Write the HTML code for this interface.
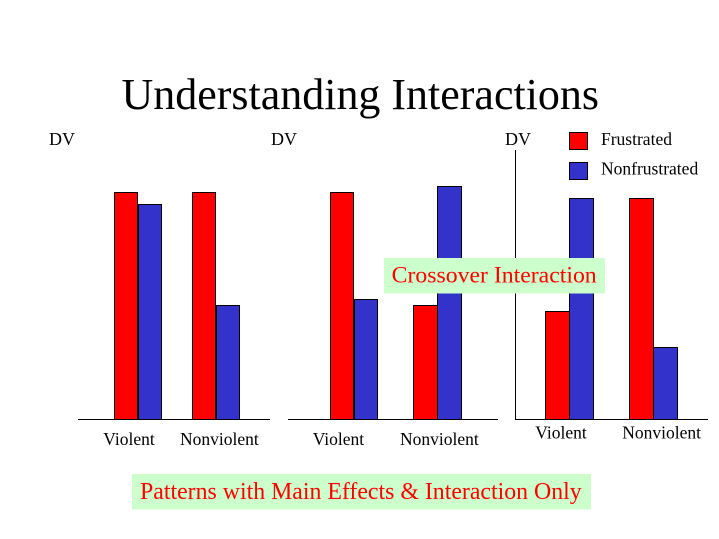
<!DOCTYPE html>
<html>
<head>
<meta charset="utf-8">
<style>
html,body{margin:0;padding:0;background:#fff;}
svg{display:block;}
text{font-family:"Liberation Serif","Times New Roman",serif;}
</style>
</head>
<body>
<svg width="719" height="539" viewBox="0 0 719 539" xmlns="http://www.w3.org/2000/svg">
<rect x="0" y="0" width="719" height="539" fill="#fff"/>
<text x="121.5" y="109" font-size="44" fill="#000" textLength="477.5" lengthAdjust="spacingAndGlyphs">Understanding Interactions</text>

<!-- Chart 1 -->
<text x="49" y="145" font-size="18" fill="#000">DV</text>
<g stroke="#000" stroke-width="1">
<rect x="114.5" y="192.5" width="23" height="227" fill="#FF0000"/>
<rect x="138.5" y="204.5" width="23" height="215" fill="#3333CC"/>
<rect x="192.5" y="192.5" width="23" height="227" fill="#FF0000"/>
<rect x="216.5" y="305.5" width="23" height="114" fill="#3333CC"/>
<line x1="78" y1="419.5" x2="270" y2="419.5"/>
</g>
<text x="103.3" y="445" font-size="17.5" fill="#000">Violent</text>
<text x="180" y="445" font-size="17.5" fill="#000">Nonviolent</text>

<!-- Chart 2 -->
<text x="271" y="145" font-size="18" fill="#000">DV</text>
<g stroke="#000" stroke-width="1">
<rect x="330.5" y="192.5" width="23" height="227" fill="#FF0000"/>
<rect x="354.5" y="299.5" width="23" height="120" fill="#3333CC"/>
<rect x="413.5" y="305.5" width="24" height="114" fill="#FF0000"/>
<rect x="437.5" y="186.5" width="24" height="233" fill="#3333CC"/>
<line x1="288" y1="419.5" x2="498" y2="419.5"/>
</g>
<text x="312.7" y="445" font-size="17.5" fill="#000">Violent</text>
<text x="400" y="445" font-size="17.5" fill="#000">Nonviolent</text>

<!-- Chart 3 -->
<text x="505" y="145" font-size="18" fill="#000">DV</text>
<g stroke="#000" stroke-width="1">
<line x1="515.5" y1="150" x2="515.5" y2="419.5"/>
<line x1="515" y1="419.5" x2="708" y2="419.5"/>
<rect x="545.5" y="311.5" width="24" height="108" fill="#FF0000"/>
<rect x="569.5" y="198.5" width="24" height="221" fill="#3333CC"/>
<rect x="629.5" y="198.5" width="24" height="221" fill="#FF0000"/>
<rect x="653.5" y="347.5" width="24" height="72" fill="#3333CC"/>
<rect x="569.5" y="132.5" width="18" height="17" fill="#FF0000"/>
<rect x="569.5" y="162.5" width="18" height="17" fill="#3333CC"/>
</g>
<text x="601" y="145" font-size="17.5" fill="#000">Frustrated</text>
<text x="601" y="174.3" font-size="17.5" fill="#000">Nonfrustrated</text>
<text x="535.3" y="438.5" font-size="17.5" fill="#000">Violent</text>
<text x="622.3" y="438.5" font-size="17.5" fill="#000">Nonviolent</text>

<!-- Crossover label -->
<rect x="384" y="258" width="221" height="35.5" fill="#CCFFCC"/>
<text x="391.7" y="282.5" font-size="23.7" fill="#FF0000" textLength="205" lengthAdjust="spacingAndGlyphs">Crossover Interaction</text>

<!-- Bottom label -->
<rect x="132" y="474" width="459" height="35.5" fill="#CCFFCC"/>
<text x="140" y="499" font-size="23.8" fill="#FF0000" textLength="441.7" lengthAdjust="spacingAndGlyphs">Patterns with Main Effects &amp; Interaction Only</text>
</svg>
</body>
</html>
